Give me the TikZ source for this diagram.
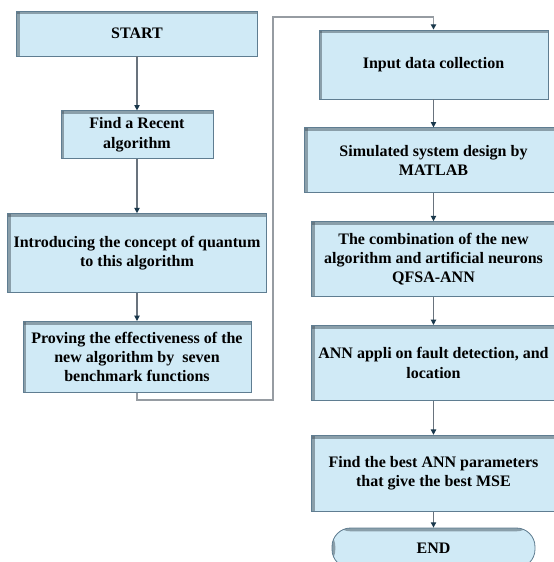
\documentclass[tikz,border=0pt]{standalone}
\usepackage{fontspec}
\setmainfont{Liberation Serif}
\usetikzlibrary{arrows.meta,positioning}
\definecolor{FCfill}{RGB}{208,234,246}
\definecolor{FCedge}{RGB}{95,125,145}
\definecolor{FCshade}{RGB}{70,85,95}
\definecolor{FCline}{RGB}{105,115,125}
\definecolor{FCloop}{RGB}{150,156,162}
\definecolor{FCtip}{RGB}{25,55,75}

\begin{document}
\begin{tikzpicture}[
    x=0.75pt, y=0.75pt,
    node distance=21pt,
    stepbox/.style={
      draw=FCedge,
      fill=FCfill,
      align=center,
      font=\fontsize{12}{14.5}\selectfont\bfseries,
      inner sep=1pt,
      line width=0.6pt,
      path picture={
        \fill[FCshade,opacity=.5] (path picture bounding box.north west)
          rectangle ([xshift=2.5pt]path picture bounding box.south west);
        \fill[FCshade,opacity=.5] (path picture bounding box.north west)
          rectangle ([yshift=-2.5pt]path picture bounding box.north east);
      }
    },
    arrow/.style={-{Triangle[length=4pt,width=4pt,color=FCtip]}, draw=FCline, line width=0.8pt},
    looparrow/.style={arrow, draw=FCloop, line width=1.4pt}
  ]
    \useasboundingbox (0,0) rectangle (554,-562);

    % left column
    \node[stepbox, minimum width=180.75pt, minimum height=33.75pt] (start)
      at (137,-33.5) {START};
    \node[stepbox, minimum width=114pt, minimum height=36pt,
      below=40.5pt of start] (recent) {Find a Recent\\algorithm};
    \node[stepbox, minimum width=194.25pt, minimum height=59.25pt,
      below=40.5pt of recent] (quantum)
      {Introducing the concept of quantum\\to this algorithm};
    \node[stepbox, minimum width=171pt, minimum height=53.25pt,
      below=of quantum] (bench)
      {Proving the effectiveness of the\\new algorithm by~ seven\\benchmark functions};

    % right column
    \node[stepbox, minimum width=171.75pt, minimum height=51.75pt] (input)
      at (433.5,-64.5) {Input data collection};
    \node[stepbox, minimum width=193.5pt, minimum height=48.75pt,
      below=of input] (matlab) {Simulated system design by\\MATLAB};
    \node[stepbox, minimum width=183pt, minimum height=56.25pt,
      below=of matlab] (hybrid)
      {The combination of the new\\algorithm and artificial neurons\\QFSA-ANN};
    \node[stepbox, minimum width=183pt, minimum height=56.25pt,
      below=of hybrid] (fault) {ANN appli on fault detection, and\\location};
    \node[stepbox, minimum width=183pt, minimum height=57pt,
      below=25.5pt of fault] (mse)
      {Find the best ANN parameters\\that give the best MSE};
    \node[stepbox, minimum width=152.25pt, minimum height=30pt,
      rounded corners=14pt, below=12pt of mse] (finish) {END};

    \coordinate (turnlow) at (273,-400);
    \coordinate (turnhigh) at (273,-17);

    \draw[arrow] (start) -- (recent);
    \draw[arrow] (recent) -- (quantum);
    \draw[arrow] (quantum) -- (bench);
    \draw[looparrow] (bench.south) |- (turnlow) -- (turnhigh) -| (input.north);
    \draw[arrow] (input) -- (matlab);
    \draw[arrow] (matlab) -- (hybrid);
    \draw[arrow] (hybrid) -- (fault);
    \draw[arrow] (fault) -- (mse);
    \draw[arrow] (mse) -- (finish);
\end{tikzpicture}
\end{document}
